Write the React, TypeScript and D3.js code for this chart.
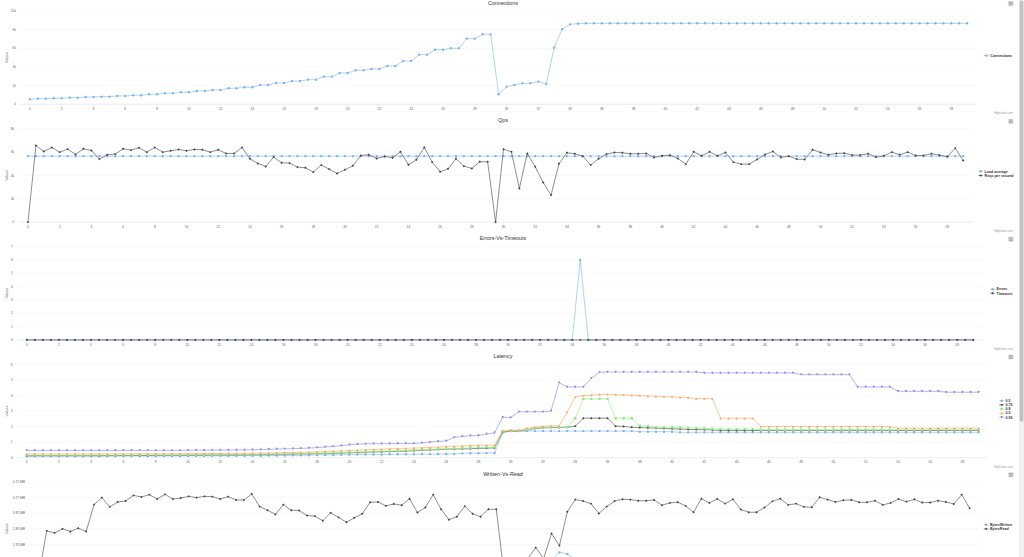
import React, { useEffect } from "react";
import * as d3 from "d3";

// ---------- data ----------
const X_VALUES: number[] = d3.range(0, 59.25, 0.5); // 119 samples
const X_TICKS: number[] = d3.range(0, 59, 2); // 0..58

const CONN_TICKS = [0, 2000, 4000, 6000, 8000, 10000];
const CONN_TICK_LABELS = ["0", "2k", "4k", "6k", "8k", "10k"];
const QPS_TICKS = [0, 2000, 4000, 6000, 8000];
const QPS_TICK_LABELS = ["0", "2k", "4k", "6k", "8k"];
const ERR_TICKS = [0, 1, 2, 3, 4, 5, 6, 7];
const ERR_TICK_LABELS = ["0", "1", "2", "3", "4", "5", "6", "7"];
const LAT_TICKS = [0, 1, 2, 3, 4, 5, 6];
const LAT_TICK_LABELS = ["0", "1", "2", "3", "4", "5", "6"];
const RW_TICKS = [0, 1000000, 2000000, 3000000, 4000000, 5000000, 6000000];
const RW_TICK_LABELS = ["0.00 MB", "0.95 MB", "1.91 MB", "2.86 MB", "3.81 MB", "4.77 MB", "5.72 MB"];

const CONNECTIONS = [
  536, 607, 607, 643, 643, 714, 714, 786, 786, 821,
  821, 893, 893, 964, 964, 1071, 1071, 1179, 1179, 1286,
  1286, 1429, 1429, 1536, 1536, 1714, 1714, 1821, 1821, 2071,
  2071, 2286, 2286, 2500, 2500, 2643, 2643, 2964, 2964, 3357,
  3357, 3643, 3643, 3786, 3786, 4107, 4107, 4643, 4643, 5321,
  5321, 5857, 5857, 6000, 6000, 7036, 7036, 7500, 7500, 1071,
  1893, 2071, 2250, 2250, 2429, 2179, 6071, 8036, 8571, 8643,
  8679, 8679, 8679, 8679, 8679, 8679, 8679, 8679, 8679, 8679,
  8679, 8679, 8679, 8679, 8679, 8679, 8679, 8679, 8679, 8679,
  8679, 8679, 8679, 8679, 8679, 8679, 8679, 8679, 8679, 8679,
  8679, 8679, 8679, 8679, 8679, 8679, 8679, 8679, 8679, 8679,
  8679, 8679, 8679, 8679, 8679, 8679, 8679, 8679, 8679,
];

const LOAD_AVERAGE = [
  5657, 5657, 5657, 5657, 5657, 5657, 5657, 5657, 5657, 5657,
  5657, 5657, 5657, 5657, 5657, 5657, 5657, 5657, 5657, 5657,
  5657, 5657, 5657, 5657, 5657, 5657, 5657, 5657, 5657, 5657,
  5657, 5657, 5657, 5657, 5657, 5657, 5657, 5657, 5657, 5657,
  5657, 5657, 5657, 5657, 5657, 5657, 5657, 5657, 5657, 5657,
  5657, 5657, 5657, 5657, 5657, 5657, 5657, 5657, 5657, 5657,
  5657, 5657, 5657, 5657, 5657, 5657, 5657, 5657, 5657, 5657,
  5657, 5657, 5657, 5657, 5657, 5657, 5657, 5657, 5657, 5657,
  5657, 5657, 5657, 5657, 5657, 5657, 5657, 5657, 5657, 5657,
  5657, 5657, 5657, 5657, 5657, 5657, 5657, 5657, 5657, 5657,
  5657, 5657, 5657, 5657, 5657, 5657, 5657, 5657, 5657, 5657,
  5657, 5657, 5657, 5657, 5657, 5657, 5657, 5657, 5657,
];

const REQS_PER_SECOND = [
  0, 6571, 6057, 6400, 6000, 6257, 5800, 6286, 6143, 5400,
  5771, 5829, 6286, 6171, 6371, 6000, 6400, 6000, 6114, 6229,
  6114, 6229, 6200, 6000, 6200, 5886, 5886, 6400, 5429, 5029,
  4771, 5571, 5086, 5057, 4714, 4657, 4286, 4886, 4543, 4171,
  4486, 4829, 5714, 5771, 5457, 5629, 5514, 6029, 4914, 5343,
  6400, 5143, 4314, 4571, 5429, 4800, 4600, 5171, 5171, 0,
  6257, 6029, 2886, 5886, 4743, 3400, 2314, 5000, 5943, 5857,
  5657, 4886, 5429, 5829, 5971, 5943, 5857, 5857, 5886, 5543,
  5686, 5743, 5457, 4971, 6029, 5686, 6029, 5686, 5971, 5143,
  4971, 4971, 5371, 5800, 6057, 5543, 5657, 5400, 5371, 6200,
  5971, 5771, 5886, 5914, 5743, 5743, 5857, 5571, 5686, 6000,
  5771, 6000, 5714, 5714, 5857, 5743, 5600, 6343, 5286,
];

const ERRORS = [
  0, 0, 0, 0, 0, 0, 0, 0, 0, 0,
  0, 0, 0, 0, 0, 0, 0, 0, 0, 0,
  0, 0, 0, 0, 0, 0, 0, 0, 0, 0,
  0, 0, 0, 0, 0, 0, 0, 0, 0, 0,
  0, 0, 0, 0, 0, 0, 0, 0, 0, 0,
  0, 0, 0, 0, 0, 0, 0, 0, 0, 0,
  0, 0, 0, 0, 0, 0, 0, 0, 0, 6,
  0, 0, 0, 0, 0, 0, 0, 0, 0, 0,
  0, 0, 0, 0, 0, 0, 0, 0, 0, 0,
  0, 0, 0, 0, 0, 0, 0, 0, 0, 0,
  0, 0, 0, 0, 0, 0, 0, 0, 0, 0,
  0, 0, 0, 0, 0, 0, 0, 0, 0,
];

const TIMEOUTS = [
  0, 0, 0, 0, 0, 0, 0, 0, 0, 0,
  0, 0, 0, 0, 0, 0, 0, 0, 0, 0,
  0, 0, 0, 0, 0, 0, 0, 0, 0, 0,
  0, 0, 0, 0, 0, 0, 0, 0, 0, 0,
  0, 0, 0, 0, 0, 0, 0, 0, 0, 0,
  0, 0, 0, 0, 0, 0, 0, 0, 0, 0,
  0, 0, 0, 0, 0, 0, 0, 0, 0, 0,
  0, 0, 0, 0, 0, 0, 0, 0, 0, 0,
  0, 0, 0, 0, 0, 0, 0, 0, 0, 0,
  0, 0, 0, 0, 0, 0, 0, 0, 0, 0,
  0, 0, 0, 0, 0, 0, 0, 0, 0, 0,
  0, 0, 0, 0, 0, 0, 0, 0, 0,
];

const LAT_050 = [
  0.09, 0.1, 0.1, 0.1, 0.1, 0.1, 0.1, 0.1, 0.1, 0.1,
  0.1, 0.1, 0.11, 0.11, 0.11, 0.11, 0.11, 0.11, 0.11, 0.11,
  0.12, 0.12, 0.12, 0.12, 0.12, 0.12, 0.13, 0.13, 0.13, 0.13,
  0.14, 0.14, 0.14, 0.15, 0.15, 0.16, 0.17, 0.18, 0.18, 0.19,
  0.2, 0.2, 0.21, 0.21, 0.21, 0.22, 0.22, 0.22, 0.22, 0.23,
  0.23, 0.24, 0.24, 0.24, 0.28, 0.29, 0.29, 0.3, 0.3, 1.6,
  1.71, 1.71, 1.71, 1.71, 1.71, 1.71, 1.71, 1.71, 1.71, 1.71,
  1.71, 1.71, 1.71, 1.71, 1.71, 1.71, 1.67, 1.67, 1.67, 1.67,
  1.67, 1.63, 1.63, 1.63, 1.63, 1.63, 1.63, 1.63, 1.63, 1.63,
  1.63, 1.63, 1.63, 1.63, 1.63, 1.63, 1.63, 1.63, 1.63, 1.63,
  1.63, 1.63, 1.63, 1.63, 1.63, 1.63, 1.63, 1.63, 1.63, 1.63,
  1.63, 1.63, 1.63, 1.63, 1.63, 1.63, 1.63, 1.63, 1.63,
];

const LAT_075 = [
  0.12, 0.13, 0.13, 0.13, 0.13, 0.13, 0.13, 0.13, 0.13, 0.13,
  0.14, 0.14, 0.14, 0.14, 0.14, 0.14, 0.15, 0.15, 0.15, 0.15,
  0.16, 0.16, 0.16, 0.17, 0.17, 0.17, 0.18, 0.18, 0.19, 0.19,
  0.2, 0.21, 0.22, 0.23, 0.24, 0.25, 0.26, 0.27, 0.28, 0.3,
  0.32, 0.33, 0.35, 0.37, 0.38, 0.4, 0.41, 0.43, 0.45, 0.48,
  0.5, 0.52, 0.55, 0.56, 0.57, 0.58, 0.6, 0.61, 0.63, 1.66,
  1.71, 1.71, 1.77, 1.88, 1.92, 1.94, 1.94, 1.96, 2.03, 2.54,
  2.54, 2.54, 2.54, 2.03, 2.01, 1.96, 1.94, 1.92, 1.9, 1.88,
  1.86, 1.84, 1.82, 1.81, 1.8, 1.79, 1.75, 1.75, 1.75, 1.75,
  1.75, 1.75, 1.75, 1.75, 1.75, 1.75, 1.75, 1.75, 1.75, 1.75,
  1.75, 1.75, 1.75, 1.75, 1.75, 1.75, 1.75, 1.75, 1.75, 1.75,
  1.75, 1.75, 1.75, 1.75, 1.75, 1.75, 1.75, 1.75, 1.75,
];

const LAT_080 = [
  0.15, 0.15, 0.15, 0.15, 0.15, 0.15, 0.15, 0.15, 0.16, 0.16,
  0.16, 0.16, 0.16, 0.16, 0.17, 0.17, 0.17, 0.17, 0.17, 0.18,
  0.18, 0.18, 0.19, 0.19, 0.19, 0.2, 0.2, 0.21, 0.21, 0.22,
  0.23, 0.24, 0.25, 0.26, 0.27, 0.28, 0.29, 0.3, 0.31, 0.33,
  0.35, 0.36, 0.38, 0.4, 0.42, 0.43, 0.45, 0.47, 0.5, 0.52,
  0.54, 0.56, 0.58, 0.6, 0.62, 0.63, 0.66, 0.67, 0.7, 1.68,
  1.73, 1.73, 1.79, 1.92, 1.94, 1.96, 1.96, 1.96, 2.54, 3.78,
  3.78, 3.78, 3.78, 2.54, 2.54, 2.54, 2.05, 2.03, 1.96, 1.96,
  1.96, 1.94, 1.92, 1.9, 1.88, 1.86, 1.84, 1.84, 1.84, 1.84,
  1.84, 1.8, 1.8, 1.8, 1.8, 1.8, 1.8, 1.8, 1.8, 1.8,
  1.8, 1.8, 1.8, 1.8, 1.8, 1.8, 1.8, 1.8, 1.8, 1.8,
  1.8, 1.8, 1.8, 1.8, 1.8, 1.8, 1.8, 1.8, 1.8,
];

const LAT_090 = [
  0.24, 0.24, 0.24, 0.24, 0.24, 0.24, 0.24, 0.24, 0.24, 0.24,
  0.24, 0.25, 0.25, 0.25, 0.25, 0.25, 0.25, 0.25, 0.26, 0.26,
  0.26, 0.26, 0.27, 0.27, 0.27, 0.28, 0.28, 0.29, 0.29, 0.3,
  0.31, 0.32, 0.33, 0.34, 0.35, 0.36, 0.38, 0.4, 0.42, 0.44,
  0.47, 0.49, 0.51, 0.53, 0.55, 0.57, 0.59, 0.6, 0.62, 0.64,
  0.66, 0.68, 0.72, 0.74, 0.76, 0.78, 0.8, 0.81, 0.82, 1.75,
  1.77, 1.77, 1.9, 1.96, 2.02, 2.05, 2.05, 2.93, 3.91, 3.99,
  4.03, 4.06, 4.08, 4.06, 4.04, 4.02, 4.0, 3.97, 3.95, 3.93,
  3.91, 3.89, 3.87, 3.8, 3.8, 3.8, 2.54, 2.54, 2.54, 2.54,
  2.54, 2.0, 2.0, 2.0, 2.0, 2.0, 2.0, 2.0, 2.0, 2.0,
  2.0, 2.0, 2.0, 2.0, 2.0, 2.0, 2.0, 2.0, 1.9, 1.9,
  1.9, 1.9, 1.9, 1.9, 1.9, 1.9, 1.9, 1.9, 1.9,
];

const LAT_099 = [
  0.47, 0.46, 0.46, 0.47, 0.47, 0.47, 0.46, 0.47, 0.47, 0.47,
  0.47, 0.46, 0.47, 0.47, 0.47, 0.47, 0.47, 0.47, 0.47, 0.47,
  0.48, 0.48, 0.48, 0.49, 0.49, 0.49, 0.5, 0.5, 0.51, 0.52,
  0.54, 0.56, 0.57, 0.58, 0.6, 0.62, 0.65, 0.69, 0.73, 0.77,
  0.83, 0.87, 0.89, 0.9, 0.9, 0.9, 0.91, 0.91, 0.91, 0.95,
  1.0, 1.04, 1.08, 1.3, 1.37, 1.41, 1.43, 1.52, 1.6, 2.6,
  2.58, 2.95, 2.95, 2.95, 2.95, 3.01, 4.83, 4.55, 4.55, 4.55,
  5.12, 5.49, 5.51, 5.51, 5.51, 5.51, 5.51, 5.51, 5.51, 5.51,
  5.51, 5.51, 5.51, 5.51, 5.45, 5.45, 5.45, 5.45, 5.45, 5.45,
  5.45, 5.45, 5.45, 5.45, 5.45, 5.45, 5.34, 5.34, 5.34, 5.34,
  5.34, 5.34, 5.34, 4.55, 4.55, 4.55, 4.55, 4.55, 4.27, 4.27,
  4.27, 4.27, 4.27, 4.27, 4.21, 4.21, 4.21, 4.21, 4.21,
];

const BYTES_WRITTEN = [
  0, 850000, 830000, 860000, 840000, 870000, 840000, 900000, 920000, 900000,
  910000, 910000, 930000, 920000, 930000, 910000, 930000, 910000, 920000, 920000,
  920000, 920000, 920000, 910000, 920000, 900000, 900000, 930000, 890000, 870000,
  850000, 890000, 870000, 870000, 850000, 850000, 830000, 860000, 840000, 820000,
  840000, 850000, 900000, 900000, 880000, 890000, 880000, 910000, 860000, 880000,
  930000, 870000, 830000, 840000, 880000, 850000, 840000, 870000, 870000, 0,
  300000, 500000, 700000, 850000, 700000, 1000000, 1490000, 1390000, 1000000, 950000,
  940000, 900000, 930000, 950000, 960000, 950000, 950000, 950000, 950000, 930000,
  940000, 940000, 930000, 900000, 960000, 940000, 950000, 940000, 950000, 910000,
  900000, 900000, 920000, 950000, 960000, 930000, 940000, 920000, 920000, 960000,
  950000, 940000, 950000, 950000, 940000, 940000, 950000, 930000, 940000, 950000,
  940000, 950000, 940000, 940000, 950000, 940000, 930000, 960000, 920000,
];

const BYTES_READ = [
  0, 2870000, 2740000, 3000000, 2830000, 3040000, 2830000, 4560000, 5010000, 4410000,
  4730000, 4790000, 5150000, 5050000, 5200000, 4920000, 5220000, 4920000, 4980000, 5090000,
  5010000, 5090000, 5070000, 4920000, 5070000, 4860000, 4860000, 5240000, 4430000, 4200000,
  3930000, 4560000, 4200000, 4180000, 3860000, 3820000, 3520000, 4030000, 3740000, 3420000,
  3710000, 3970000, 4710000, 4730000, 4480000, 4600000, 4520000, 4940000, 4050000, 4370000,
  5200000, 4260000, 3590000, 3780000, 4460000, 3970000, 3780000, 4260000, 4260000, 0,
  400000, 800000, 1100000, 1790000, 1100000, 2700000, 1920000, 4100000, 4880000, 4790000,
  4620000, 3990000, 4430000, 4790000, 4900000, 4880000, 4810000, 4810000, 4860000, 4520000,
  4670000, 4710000, 4480000, 4070000, 4940000, 4670000, 4920000, 4620000, 4900000, 4240000,
  4070000, 4070000, 4370000, 4770000, 4940000, 4540000, 4620000, 4410000, 4390000, 5030000,
  4880000, 4730000, 4840000, 4860000, 4710000, 4710000, 4810000, 4540000, 4670000, 4920000,
  4750000, 4900000, 4690000, 4690000, 4810000, 4730000, 4600000, 5200000, 4330000,
];

// ---------- styling ----------
const VIEW_W = 1024;
const VIEW_H = 557;
const FONT = '"Liberation Sans", Arial, Helvetica, sans-serif';
const COLORS = ["#7cb5ec", "#434348", "#90ed7d", "#f7a35c", "#8085e9"];
const SYMBOLS = ["circle", "diamond", "square", "triangle", "triangle-down"];

type Series = { name: string; values: number[] };
type PanelProps = {
  top: number;
  title: string;
  series: Series[];
  ticks: number[];
  tickLabels: string[];
  plotLeft: number;
  plotRight: number;
  legendX: number;
};

function symbolPath(kind: string, cx: number, cy: number, r: number): string {
  switch (kind) {
    case "diamond":
      return `M${cx},${cy - r}L${cx + r},${cy}L${cx},${cy + r}L${cx - r},${cy}Z`;
    case "square":
      return `M${cx - r},${cy - r}h${2 * r}v${2 * r}h${-2 * r}Z`;
    case "triangle":
      return `M${cx},${cy - r}L${cx + r},${cy + r}L${cx - r},${cy + r}Z`;
    case "triangle-down":
      return `M${cx - r},${cy - r}L${cx + r},${cy - r}L${cx},${cy + r}Z`;
    default:
      return `M${cx - r},${cy}a${r},${r} 0 1,0 ${2 * r},0a${r},${r} 0 1,0 ${-2 * r},0Z`;
  }
}

const R = 1.2;
const LW = 0.6;
// a text whose glyphs would start below the visible page is not drawn (it is out of view in the original too)
const visible = (baseline: number, size: number) => baseline - size * 0.75 < VIEW_H - 0.5;

function Panel({ top, title, series, ticks, tickLabels, plotLeft, plotRight, legendX }: PanelProps) {
  const plotTop = top + 11;
  const plotBottom = top + 104.3;
  const x = d3.scaleLinear().domain([-0.59, 59.59]).range([plotLeft, plotRight]);
  const y = d3
    .scaleLinear()
    .domain([0, ticks[ticks.length - 1]])
    .range([plotBottom, plotTop]);
  const line = d3
    .line<number>()
    .x((_, i) => x(X_VALUES[i]))
    .y((d) => y(d));
  const n = series.length;
  const legendMid = top + 55.6;
  const rowH = 4.15;
  const xLabelY = plotBottom + 5.7;
  const creditY = top + 114.3;

  return (
    <g>
      <text x={503} y={top + 4.5} textAnchor="middle" fontSize={5.4} fill="#333333">
        {title}
      </text>
      {/* grid */}
      {ticks.map((t, i) => (
        <line key={"g" + i} x1={plotLeft} x2={plotRight} y1={y(t)} y2={y(t)} stroke="#e6e6e6" strokeWidth={0.3} />
      ))}
      {/* y labels */}
      {ticks.map((t, i) =>
        visible(y(t) + 1.15, 3.3) ? (
          <text key={"yl" + i} x={plotLeft - 4.5} y={y(t) + 1.15} textAnchor="end" fontSize={3.3} fill="#666666">
            {tickLabels[i]}
          </text>
        ) : null
      )}
      <text
        transform={`translate(8.4,${(plotTop + plotBottom) / 2}) rotate(-90)`}
        textAnchor="middle"
        fontSize={3.6}
        fill="#666666"
      >
        Values
      </text>
      {/* x axis */}
      <line x1={plotLeft} x2={plotRight} y1={plotBottom} y2={plotBottom} stroke="#ccd6eb" strokeWidth={0.3} />
      {X_TICKS.map((t, i) => (
        <g key={"xt" + i}>
          <line x1={x(t)} x2={x(t)} y1={plotBottom} y2={plotBottom + 3} stroke="#ccd6eb" strokeWidth={0.3} />
          {visible(xLabelY, 3.3) ? (
            <text x={x(t)} y={xLabelY} textAnchor="middle" fontSize={3.3} fill="#666666">
              {String(t)}
            </text>
          ) : null}
        </g>
      ))}
      {/* series */}
      {series.map((s, si) => (
        <g key={"s" + si}>
          <path
            d={line(s.values) || ""}
            fill="none"
            stroke={COLORS[si]}
            strokeWidth={LW}
            strokeLinejoin="round"
            strokeLinecap="round"
          />
          <path
            d={s.values.map((v, i) => symbolPath(SYMBOLS[si], x(X_VALUES[i]), y(v), R)).join("")}
            fill={COLORS[si]}
          />
        </g>
      ))}
      {/* legend */}
      {series.map((s, si) => {
        const cy = legendMid + (si - (n - 1) / 2) * rowH;
        return (
          <g key={"l" + si}>
            <line x1={legendX} x2={legendX + 4.8} y1={cy} y2={cy} stroke={COLORS[si]} strokeWidth={LW} />
            <path d={symbolPath(SYMBOLS[si], legendX + 2.4, cy, R)} fill={COLORS[si]} />
            <text x={legendX + 6.3} y={cy + 1.25} fontSize={3.6} fontWeight="bold" fill="#333333">
              {s.name}
            </text>
          </g>
        );
      })}
      {/* credits */}
      {visible(creditY, 2.7) ? (
        <text x={1013} y={creditY} textAnchor="end" fontSize={2.7} fill="#999999">
          Highcharts.com
        </text>
      ) : null}
      {/* context menu button */}
      <rect x={1007.9} y={top + 1} width={5.8} height={5.2} rx={0.6} fill="#e6e6e6" />
      {[2.2, 3.6, 5.0].map((dy, i) => (
        <line key={"m" + i} x1={1008.9} x2={1012.7} y1={top + dy} y2={top + dy} stroke="#666666" strokeWidth={0.5} />
      ))}
    </g>
  );
}

const PANEL_STEP = 117.8;

export default function App() {
  useEffect(() => {
    document.body.style.margin = "0";
    document.body.style.overflow = "hidden";
  }, []);

  return (
    <svg
      width={VIEW_W}
      height={VIEW_H}
      viewBox={`0 0 ${VIEW_W} ${VIEW_H}`}
      style={{ position: "absolute", left: 0, top: 0, background: "#ffffff", fontFamily: FONT }}
    >
      <rect x={0} y={0} width={VIEW_W} height={VIEW_H} fill="#ffffff" />
      <Panel
        top={0}
        title="Connections"
        series={[{ name: "Connections", values: CONNECTIONS }]}
        ticks={CONN_TICKS}
        tickLabels={CONN_TICK_LABELS}
        plotLeft={20.6}
        plotRight={976.6}
        legendX={984}
      />
      <Panel
        top={PANEL_STEP}
        title="Qps"
        series={[
          { name: "Load average", values: LOAD_AVERAGE },
          { name: "Reqs per second", values: REQS_PER_SECOND },
        ]}
        ticks={QPS_TICKS}
        tickLabels={QPS_TICK_LABELS}
        plotLeft={18.65}
        plotRight={972.5}
        legendX={978.3}
      />
      <Panel
        top={PANEL_STEP * 2}
        title="Errors-Vs-Timeouts"
        series={[
          { name: "Errors", values: ERRORS },
          { name: "Timeouts", values: TIMEOUTS },
        ]}
        ticks={ERR_TICKS}
        tickLabels={ERR_TICK_LABELS}
        plotLeft={17.4}
        plotRight={982.7}
        legendX={990.2}
      />
      <Panel
        top={PANEL_STEP * 3}
        title="Latency"
        series={[
          { name: "0.5", values: LAT_050 },
          { name: "0.75", values: LAT_075 },
          { name: "0.8", values: LAT_080 },
          { name: "0.9", values: LAT_090 },
          { name: "0.99", values: LAT_099 },
        ]}
        ticks={LAT_TICKS}
        tickLabels={LAT_TICK_LABELS}
        plotLeft={17.2}
        plotRight={988.1}
        legendX={999.3}
      />
      <Panel
        top={PANEL_STEP * 4}
        title="Written-Vs-Read"
        series={[
          { name: "BytesWritten", values: BYTES_WRITTEN },
          { name: "BytesRead", values: BYTES_READ },
        ]}
        ticks={RW_TICKS}
        tickLabels={RW_TICK_LABELS}
        plotLeft={29.5}
        plotRight={978.9}
        legendX={983.7}
      />
      {/* browser scrollbar */}
      <rect x={1019} y={0} width={5} height={VIEW_H} fill="#f1f1f1" />
      <rect x={1019.6} y={0.5} width={3.8} height={421} rx={1.6} fill="#c1c1c1" />
    </svg>
  );
}
